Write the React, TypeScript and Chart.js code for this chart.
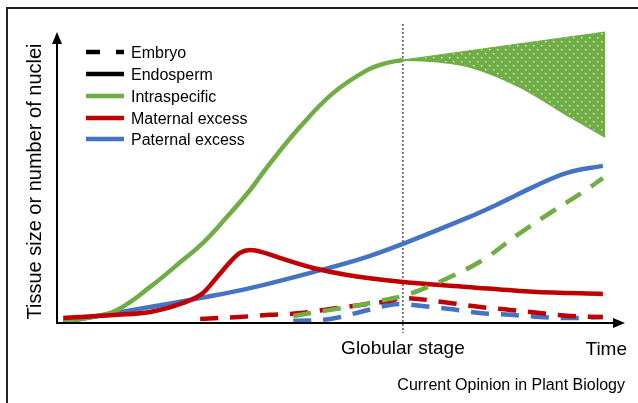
import React, { useEffect, useRef } from "react";
import { Chart, registerables } from "chart.js";

Chart.register(...registerables);

const GREEN = "#70AD47";
const RED = "#C00000";
const BLUE = "#4472C4";
const FONT = "'Liberation Sans', Arial, Helvetica, sans-serif";

// Time axis 0..100, size axis 0..100 (schematic units)
const globularX = 60.9;

// Endosperm (solid)
const intraEndoX = [1.1, 6.3, 10.6, 16.4, 22.2, 25.7, 29.9, 34.0, 37.0, 42.8, 48.6, 54.6, 58.1, 60.9];
const intraEndoY = [0.7, 2.1, 4.5, 12.4, 21.7, 27.5, 36.4, 45.7, 53.6, 67.4, 79.0, 86.9, 89.4, 90.4];

const patEndoX = [1.1, 16.4, 25.2, 34.0, 45.1, 53.9, 60.9, 72.2, 78.0, 83.8, 89.8, 96.1];
const patEndoY = [0.3, 5.5, 8.6, 12.0, 17.5, 22.3, 27.2, 36.1, 41.2, 46.7, 51.6, 54.0];

const matEndoX = [1.1, 10.6, 16.4, 22.2, 25.7, 28.2, 30.5, 32.2, 34.0, 36.6, 39.3, 45.1, 51.1, 60.9, 72.2, 83.8, 96.1];
const matEndoY = [1.7, 2.8, 3.8, 6.9, 10.3, 15.8, 21.0, 24.1, 25.1, 24.1, 22.3, 18.9, 16.5, 14.1, 12.4, 10.7, 10.0];

// Intraspecific variability band after globular stage
const bandUpperX = [60.9, 96.5];
const bandUpperY = [90.4, 100.0];
const bandLowerX = [60.9, 67.4, 72.7, 81.5, 90.3, 96.5];
const bandLowerY = [90.4, 89.7, 88.0, 81.1, 70.8, 63.9];

// Embryo (dashed)
const intraEmbX = [41.6, 48.1, 53.4, 58.6, 60.9, 63.9, 69.2, 75.0, 81.0, 86.8, 92.6, 96.1];
const intraEmbY = [2.4, 4.5, 6.2, 8.3, 9.3, 11.3, 15.8, 21.7, 30.2, 37.8, 45.0, 49.8];

const matEmbX = [25.2, 32.2, 37.5, 42.8, 48.1, 53.4, 58.6, 60.9, 69.2, 74.5, 79.8, 85.0, 90.3, 96.1];
const matEmbY = [1.4, 2.1, 2.8, 3.4, 4.8, 6.2, 7.6, 8.6, 6.9, 5.5, 4.5, 3.4, 2.4, 2.1];

const patEmbX = [41.6, 48.1, 53.4, 58.6, 60.9, 62.7, 69.2, 74.5, 79.8, 85.0, 90.3, 96.1];
const patEmbY = [0.7, 1.4, 3.8, 6.2, 6.5, 6.2, 4.8, 3.4, 2.8, 2.1, 1.7, 2.1];

const legendLabels = ["Embryo", "Endosperm", "Intraspecific", "Maternal excess", "Paternal excess"];
const legendColors = ["#000000", "#000000", GREEN, RED, BLUE];
const legendDashed = [true, false, false, false, false];

const yTitle = "Tissue size or number of nuclei";
const stageLabel = "Globular stage";
const timeLabel = "Time";
const sourceLabel = "Current Opinion in Plant Biology";

const pts = (xs: number[], ys: number[]) => xs.map((x, i) => ({ x, y: ys[i] }));

function makePattern(): CanvasPattern | string {
  const c = document.createElement("canvas");
  c.width = 8;
  c.height = 8;
  const g = c.getContext("2d");
  if (!g) return GREEN;
  g.fillStyle = GREEN;
  g.fillRect(0, 0, 8, 8);
  g.fillStyle = "rgba(255,255,255,0.85)";
  g.fillRect(1, 1, 1.4, 1.4);
  g.fillRect(5, 5, 1.4, 1.4);
  return g.createPattern(c, "repeat") || GREEN;
}

const decor = {
  id: "decor",
  beforeDatasetsDraw(chart: any) {
    const ctx = chart.ctx as CanvasRenderingContext2D;
    const area = chart.chartArea;
    const gx = chart.scales.x.getPixelForValue(globularX);
    ctx.save();
    ctx.strokeStyle = "#000";
    ctx.lineWidth = 1;
    ctx.setLineDash([2, 2]);
    ctx.beginPath();
    ctx.moveTo(gx, area.top - 8);
    ctx.lineTo(gx, area.bottom + 10);
    ctx.stroke();
    ctx.restore();
  },
  afterDatasetsDraw(chart: any) {
    const ctx = chart.ctx as CanvasRenderingContext2D;
    const area = chart.chartArea;
    const W = chart.width;
    const H = chart.height;
    const gx = chart.scales.x.getPixelForValue(globularX);
    ctx.save();
    // frame
    ctx.strokeStyle = "#222";
    ctx.lineWidth = 2;
    ctx.beginPath();
    ctx.moveTo(7, H);
    ctx.lineTo(7, 8);
    ctx.lineTo(W, 8);
    ctx.stroke();

    // axes
    const ox = area.left;
    const oy = area.bottom;
    ctx.strokeStyle = "#000";
    ctx.fillStyle = "#000";
    ctx.lineWidth = 2;
    ctx.beginPath();
    ctx.moveTo(ox, oy);
    ctx.lineTo(ox, area.top + 12);
    ctx.moveTo(ox - 1, oy);
    ctx.lineTo(area.right - 12, oy);
    ctx.stroke();
    ctx.beginPath();
    ctx.moveTo(ox, area.top);
    ctx.lineTo(ox - 5, area.top + 12);
    ctx.lineTo(ox + 5, area.top + 12);
    ctx.closePath();
    ctx.fill();
    ctx.beginPath();
    ctx.moveTo(area.right, oy);
    ctx.lineTo(area.right - 12, oy - 5);
    ctx.lineTo(area.right - 12, oy + 5);
    ctx.closePath();
    ctx.fill();

    // texts
    ctx.fillStyle = "#000";
    ctx.textBaseline = "alphabetic";
    ctx.font = `19px ${FONT}`;
    ctx.textAlign = "center";
    ctx.fillText(stageLabel, gx, oy + 31);
    ctx.textAlign = "right";
    ctx.fillText(timeLabel, area.right + 2, oy + 32);
    ctx.font = `16px ${FONT}`;
    ctx.fillText(sourceLabel, area.right, oy + 67);

    ctx.save();
    ctx.translate(41, (area.top + area.bottom) / 2 + 4);
    ctx.rotate(-Math.PI / 2);
    ctx.textAlign = "center";
    ctx.font = `20px ${FONT}`;
    ctx.fillText(yTitle, 0, 0);
    ctx.restore();

    // legend
    const baselines = [58, 80, 102, 124, 145];
    ctx.textAlign = "left";
    ctx.font = `16px ${FONT}`;
    legendLabels.forEach((lab, i) => {
      const yy = baselines[i] - 6;
      ctx.strokeStyle = legendColors[i];
      ctx.lineWidth = 4.5;
      ctx.lineCap = "butt";
      ctx.setLineDash(legendDashed[i] ? [14, 16] : []);
      ctx.beginPath();
      ctx.moveTo(86, yy);
      ctx.lineTo(124, yy);
      ctx.stroke();
      ctx.setLineDash([]);
      ctx.fillStyle = "#000";
      ctx.fillText(lab, 131, baselines[i]);
    });
    ctx.restore();
  },
};

export default function App() {
  const ref = useRef<HTMLCanvasElement | null>(null);
  useEffect(() => {
    if (!ref.current) return;
    const pattern = makePattern();
    const common = { pointRadius: 0, pointHoverRadius: 0, fill: false, clip: false as any };
    const smooth = (data: any, color: string) => ({
      ...common,
      data,
      borderColor: color,
      borderWidth: 4.5,
      tension: 0.4,
      borderCapStyle: "butt" as const,
    });
    const mono = (data: any, color: string) => ({
      ...common,
      data,
      borderColor: color,
      borderWidth: 4.5,
      cubicInterpolationMode: "monotone" as const,
      borderCapStyle: "butt" as const,
    });
    const dashed = (data: any, color: string) => ({
      ...smooth(data, color),
      borderDash: [18, 12],
    });
    const chart = new Chart(ref.current, {
      type: "line",
      data: {
        datasets: [
          { label: "Intraspecific embryo", ...dashed(pts(intraEmbX, intraEmbY), GREEN) },
          { label: "Maternal excess embryo", ...dashed(pts(matEmbX, matEmbY), RED) },
          { label: "Paternal excess embryo", ...dashed(pts(patEmbX, patEmbY), BLUE) },
          { label: "Maternal excess endosperm", ...mono(pts(matEndoX, matEndoY), RED) },
          { label: "Intraspecific endosperm", ...smooth(pts(intraEndoX, intraEndoY), GREEN) },
          { label: "Paternal excess endosperm", ...smooth(pts(patEndoX, patEndoY), BLUE) },
          {
            label: "Band upper",
            ...common,
            data: pts(bandUpperX, bandUpperY),
            borderColor: GREEN,
            borderWidth: 1,
            tension: 0,
          },
          {
            label: "Band lower",
            ...common,
            data: pts(bandLowerX, bandLowerY),
            borderColor: GREEN,
            borderWidth: 1.5,
            cubicInterpolationMode: "monotone" as const,
            fill: "-1",
            backgroundColor: pattern as any,
          },
        ],
      },
      options: {
        animation: false,
        responsive: true,
        maintainAspectRatio: false,
        layout: { padding: { left: 57, right: 13, top: 32, bottom: 80 } },
        scales: {
          x: { type: "linear", min: 0, max: 100, display: false },
          y: { type: "linear", min: 0, max: 100, display: false },
        },
        plugins: {
          legend: { display: false },
          tooltip: { enabled: false },
          filler: { propagate: false },
        },
        events: [],
      },
      plugins: [decor],
    });
    return () => chart.destroy();
  }, []);
  return (
    <div style={{ position: "absolute", left: 0, top: 0, width: 638, height: 403, background: "#fff" }}>
      <canvas ref={ref} />
    </div>
  );
}
